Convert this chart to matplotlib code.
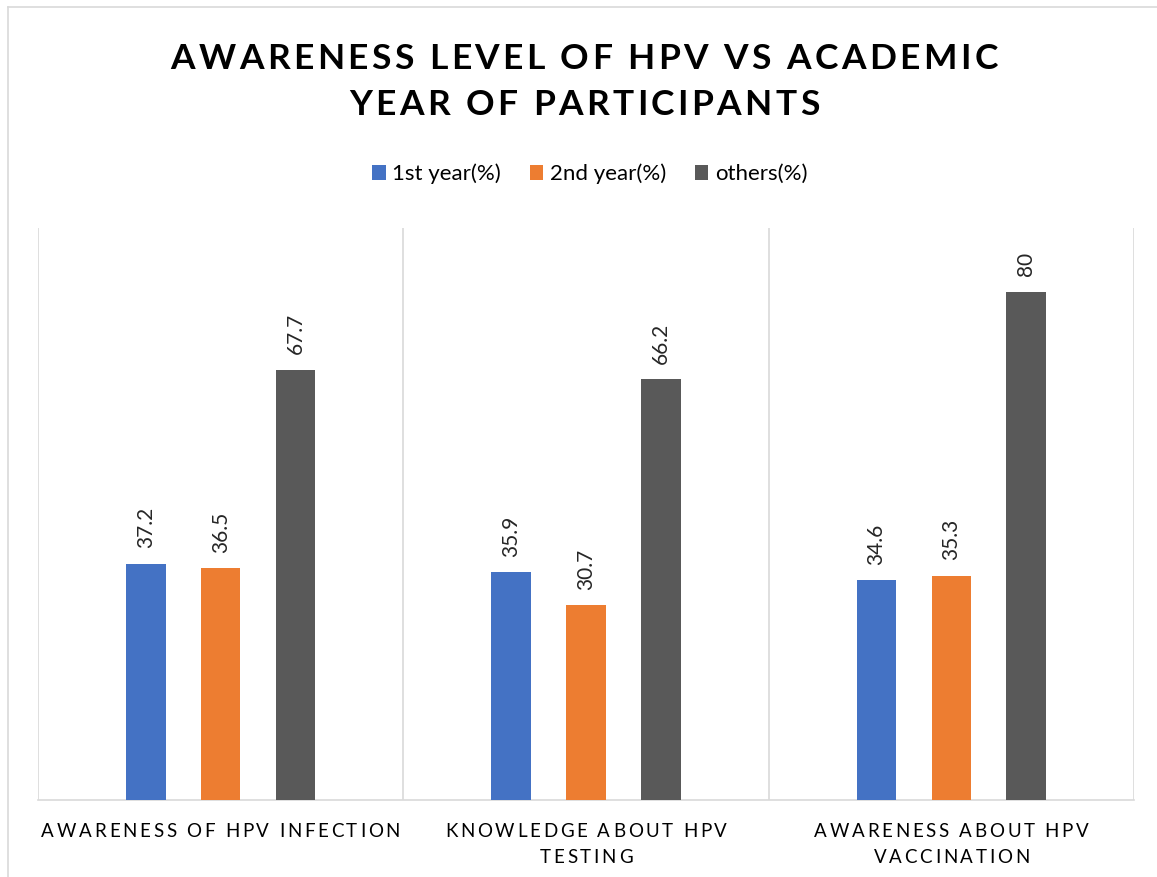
import matplotlib
matplotlib.use("Agg")
import matplotlib.pyplot as plt
from matplotlib.font_manager import FontProperties
from matplotlib.lines import Line2D

# data
categories = [["AWARENESS OF HPV INFECTION"],
              ["KNOWLEDGE ABOUT HPV", "TESTING"],
              ["AWARENESS ABOUT HPV", "VACCINATION"]]
series_names = ["1st year(%)", "2nd year(%)", "others(%)"]
first_year = [37.2, 35.9, 34.6]
second_year = [36.5, 30.7, 35.3]
others = [67.7, 66.2, 80]

colors = ["#4472C4", "#ED7D31", "#595959"]
grid_c = "#D9D9D9"

plt.rcParams['font.family'] = ['Lato', 'DejaVu Sans']

W, H = 1157, 877
fig = plt.figure(figsize=(W / 100, H / 100), dpi=100)


def spaced_text(cx, y_px, s, spacing, prop, color="black"):
    # draw text char by char with extra letter spacing (Excel style)
    r = fig.canvas.get_renderer()
    widths = [r.get_text_width_height_descent(c, prop, ismath=False)[0] for c in s]
    total = sum(widths) + spacing * (len(s) - 1)
    x = cx - total / 2
    for c, w in zip(s, widths):
        fig.text(x / W, 1 - y_px / H, c, fontproperties=prop, color=color,
                 ha="left", va="baseline")
        x += w + spacing


# chart border
fig.add_artist(Line2D([8 / W, 8 / W], [0, 1 - 7 / H], color=grid_c, lw=1.2))
fig.add_artist(Line2D([8 / W, 1], [1 - 7 / H, 1 - 7 / H], color=grid_c, lw=1.2))

ax = fig.add_axes([38 / W, 1 - 800 / H, 1096 / W, 572 / H])
ax.set_xlim(-0.5, 2.5)
ax.set_ylim(0, 90)

offsets = [-0.205, 0, 0.205]
bw = 0.108
for vals, off, col, name in zip([first_year, second_year, others], offsets, colors, series_names):
    xs = [i + off for i in range(len(vals))]
    bars = ax.bar(xs, vals, width=bw, color=col, label=name, zorder=3)
    for b, v in zip(bars, vals):
        ax.annotate(f"{v:g}", (b.get_x() + b.get_width() / 2, v),
                    xytext=(0, 11), textcoords="offset points",
                    rotation=90, ha="center", va="bottom", fontsize=15, color="#262626")

ax.vlines([-0.5, 0.5, 1.5, 2.5], 0, 90, color=grid_c, lw=1.2, zorder=1)
for s in ["top", "left", "right"]:
    ax.spines[s].set_visible(False)
ax.spines["bottom"].set_color(grid_c)
ax.spines["bottom"].set_linewidth(1.2)
ax.set_xticks([])
ax.set_yticks([])

# category labels
lab_prop = FontProperties(family=['Lato', 'DejaVu Sans'], size=13.5)
group_px = 1096 / 3
for i, lines in enumerate(categories):
    cx = 38 + group_px * (i + 0.5)
    for j, line in enumerate(lines):
        spaced_text(cx, 837 + 26 * j, line, 2.7, lab_prop, color="#000000")

# title
title_prop = FontProperties(family=['Lato', 'DejaVu Sans'], size=25.5, weight="bold")
spaced_text(584, 69, "AWARENESS LEVEL OF HPV VS ACADEMIC", 3.4, title_prop)
spaced_text(584, 115, "YEAR OF PARTICIPANTS", 3.4, title_prop)

fig.legend(loc="center", bbox_to_anchor=(590 / W, 1 - 174 / H), ncol=3, frameon=False,
           fontsize=16, handlelength=0.6, handleheight=0.6, handletextpad=0.3,
           columnspacing=1.3)

fig.savefig("out.png", dpi=100)
